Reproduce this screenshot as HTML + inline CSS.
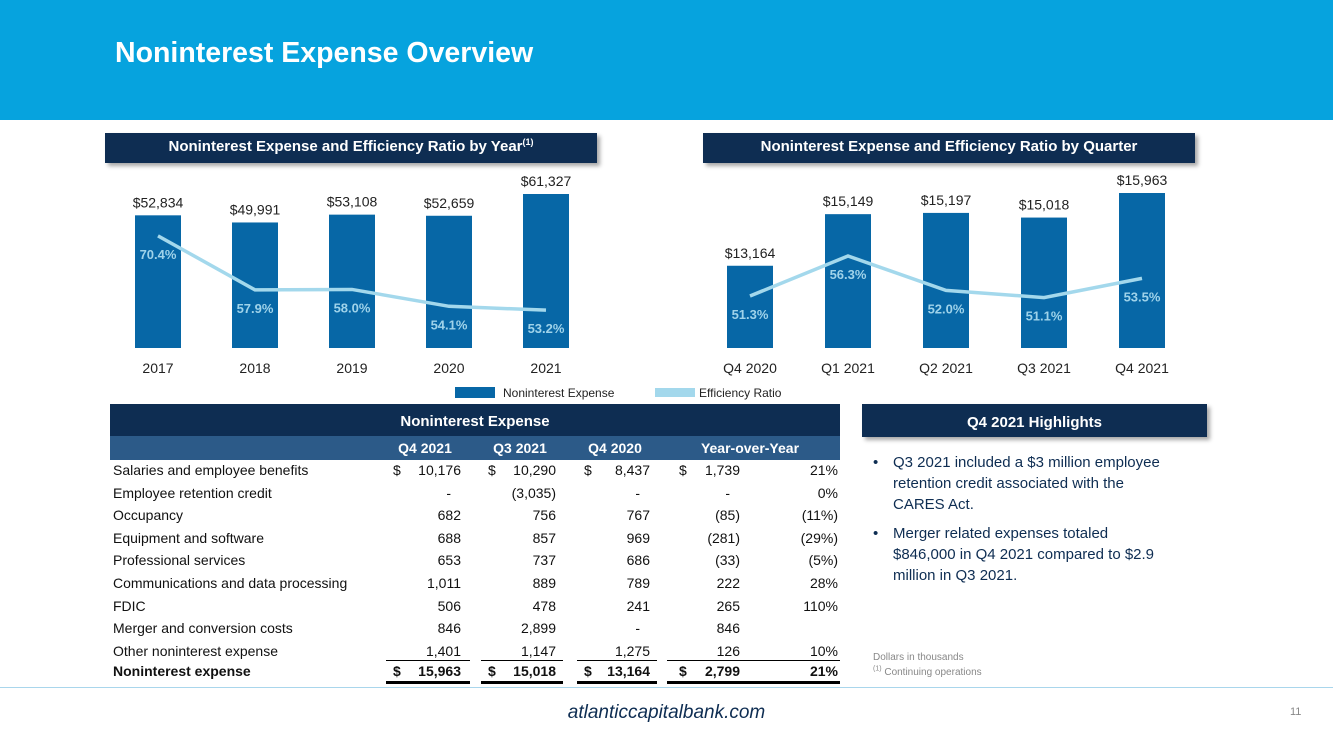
<!DOCTYPE html>
<html><head><meta charset="utf-8"><style>
body{margin:0;width:1333px;height:749px;position:relative;overflow:hidden;background:#fff;font-family:"Liberation Sans",sans-serif;}
.abs{position:absolute;}
.hdr{position:absolute;background:#0e2d52;color:#fff;font-weight:bold;font-size:15px;text-align:center;box-shadow:3px 3px 4px rgba(0,0,0,.35);}
.c{position:absolute;font-size:14px;color:#111;white-space:nowrap;}
sup{line-height:0;}
</style></head><body>
<div class="abs" style="left:0;top:0;width:1333px;height:120px;background:#06a3de;"></div>
<div class="abs" style="left:115px;top:37px;color:#fff;font-weight:bold;font-size:28.5px;">Noninterest Expense Overview</div>

<div class="hdr" style="left:105px;top:133px;width:492px;height:30px;line-height:28px;">Noninterest Expense and Efficiency Ratio by Year<sup style="font-size:9px">(1)</sup></div>
<div class="hdr" style="left:703px;top:133px;width:492px;height:30px;line-height:28px;">Noninterest Expense and Efficiency Ratio by Quarter</div>

<svg id="charts" class="abs" style="left:0;top:0" width="1333" height="410"></svg>

<div class="hdr" style="left:110px;top:404px;width:730px;height:32px;line-height:36px;box-shadow:none;">Noninterest Expense</div>
<div class="abs" style="left:110px;top:436px;width:730px;height:24px;background:#2c5a88;"></div>
<div id="table"></div>

<div class="hdr" style="left:862px;top:404px;width:345px;height:33px;line-height:37px;">Q4 2021 Highlights</div>
<div class="abs" style="left:873px;top:452px;width:330px;color:#0e2d52;font-size:15px;line-height:21px;white-space:nowrap;">
<div style="position:relative;padding-left:20px;">
<span style="position:absolute;left:0">•</span>Q3 2021 included a $3 million employee<br>retention credit associated with the<br>CARES Act.</div>
<div style="position:relative;padding-left:20px;margin-top:8px;">
<span style="position:absolute;left:0">•</span>Merger related expenses totaled<br>$846,000 in Q4 2021 compared to $2.9<br>million in Q3 2021.</div>
</div>
<div class="abs" style="left:873px;top:650px;font-size:10px;color:#888;line-height:15px;">Dollars in thousands<br><sup style="font-size:7px">(1)</sup> Continuing operations</div>
<div class="abs" style="left:0;top:687px;width:1333px;height:1px;background:#a9d6ec;"></div>
<div class="abs" style="left:0;width:1333px;top:702px;text-align:center;font-style:italic;font-size:19px;color:#0e2d52;">atlanticcapitalbank.com</div>
<div class="abs" style="left:1290px;top:706px;font-size:11px;color:#888;">11</div>

<script>
const yearCats=["2017","2018","2019","2020","2021"];
const yearExp=[52834,49991,53108,52659,61327];
const yearEff=[70.4,57.9,58.0,54.1,53.2];
const qCats=["Q4 2020","Q1 2021","Q2 2021","Q3 2021","Q4 2021"];
const qExp=[13164,15149,15197,15018,15963];
const qEff=[51.3,56.3,52.0,51.1,53.5];

const NS="http://www.w3.org/2000/svg";
const svg=document.getElementById('charts');
function mk(t,a,txt){const e=document.createElementNS(NS,t);for(const k in a)e.setAttribute(k,a[k]);if(txt!==undefined)e.textContent=txt;svg.appendChild(e);return e;}
const BASE=348,BW=46;
function fmt(v){return "$"+v.toLocaleString("en-US");}
function drawChart(cats,exp,eff,x0,step,yb,ye,prefix){
  const xs=i=>x0+i*step;
  const pts=[];
  cats.forEach((c,i)=>{
    const top=yb(exp[i]);
    const b=mk('rect',{x:xs(i)-BW/2,y:top,width:BW,height:BASE-top,fill:'#0767a6'});
    
    
    const l=mk('text',{x:xs(i),y:top-8,'text-anchor':'middle','font-size':14,fill:'#222'},fmt(exp[i]));
    
    
    const xl=mk('text',{x:xs(i),y:373,'text-anchor':'middle','font-size':14,fill:'#222'},c);
    
    
    pts.push([xs(i),ye(eff[i])]);
  });
  const ln=mk('polyline',{points:pts.map(p=>p.join(',')).join(' '),fill:'none',stroke:'#a3d8ec','stroke-width':3.5});
  
  
  eff.forEach((v,i)=>{
    const t=mk('text',{x:xs(i),y:pts[i][1]+23,'text-anchor':'middle','font-size':13,'font-weight':'bold',fill:'#9fd3ea'},v.toFixed(1)+'%');
    
    
  });
}
drawChart(yearCats,yearExp,yearEff,158,97,v=>BASE-v*154/61327,v=>540-v*4.32,'year');
drawChart(qCats,qExp,qEff,750,98,v=>BASE-(v-10000)*155/5963,v=>256+(56.3-v)*8,'quarter');
let e=mk('rect',{x:455,y:387,width:40,height:11,fill:'#0767a6'});

e=mk('text',{x:503,y:397,'font-size':12,fill:'#222'},'Noninterest Expense');

e=mk('rect',{x:655,y:388,width:40,height:9,fill:'#a3d8ec'});

e=mk('text',{x:699,y:397,'font-size':12,fill:'#222'},'Efficiency Ratio');


const rows=[
["Salaries and employee benefits","10,176","10,290","8,437","1,739","21%",true],
["Employee retention credit","-","(3,035)","-","-","0%"],
["Occupancy","682","756","767","(85)","(11%)"],
["Equipment and software","688","857","969","(281)","(29%)"],
["Professional services","653","737","686","(33)","(5%)"],
["Communications and data processing","1,011","889","789","222","28%"],
["FDIC","506","478","241","265","110%"],
["Merger and conversion costs","846","2,899","-","846",""],
["Other noninterest expense","1,401","1,147","1,275","126","10%"],
["Noninterest expense","15,963","15,018","13,164","2,799","21%",true,true]];
const tbl=document.getElementById('table');
function cell(txt,x,y,w,align,bold,color){const d=document.createElement('div');d.className='c';d.style.left=x+'px';d.style.top=y+'px';if(w)d.style.width=w+'px';if(align)d.style.textAlign=align;if(bold)d.style.fontWeight='bold';if(color)d.style.color=color;d.textContent=txt;tbl.appendChild(d);return d;}
[["Q4 2021",380,90],["Q3 2021",475,90],["Q4 2020",570,90],["Year-over-Year",690,120]].forEach(h=>{const d=cell(h[0],h[1],440,h[2],'center',true,'#fff');

});
const rEnd=[461,556,650,740,838];
rows.forEach((r,i)=>{
  const y=462+i*22.6-(r[7]?2:0);
  const bold=!!r[7];
  const l=cell(r[0],113,y,null,null,bold);
  
  
  for(let j=0;j<5;j++){
    let t=r[j+1];
    const d=cell(t,rEnd[j]-100,y,100,'right',bold);
    
    
    if(t==='-'){d.style.width='90px';}
  }
  if(r[6]){[393,488,584,679].forEach(x=>{const d=cell('$',x,y,null,null,bold);
  
  });}
});
[[386,470],[481,563],[577,657],[667,840]].forEach(s=>{
  const a=document.createElement('div');a.className='abs';a.style.cssText=`left:${s[0]}px;top:660px;width:${s[1]-s[0]}px;height:1px;background:#000`;
  tbl.appendChild(a);
  const b=document.createElement('div');b.className='abs';b.style.cssText=`left:${s[0]}px;top:681px;width:${s[1]-s[0]}px;height:3px;background:#000`;
  tbl.appendChild(b);
});
</script>
</body></html>
